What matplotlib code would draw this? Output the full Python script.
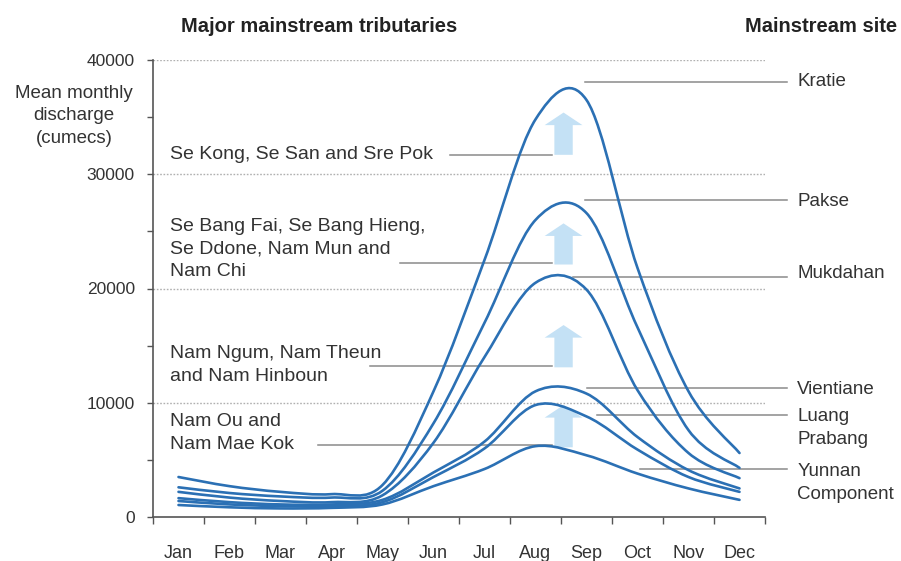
import numpy as np
import matplotlib
matplotlib.use("Agg")
import matplotlib.pyplot as plt
from matplotlib.path import Path
from matplotlib.patches import PathPatch, FancyArrow

plt.rcParams['font.family'] = ['Liberation Sans', 'DejaVu Sans']

# Data (mean monthly discharge, cumecs)
months = ['Jan', 'Feb', 'Mar', 'Apr', 'May', 'Jun', 'Jul', 'Aug', 'Sep', 'Oct', 'Nov', 'Dec']
kratie = [3500, 2700, 2200, 2000, 2800, 11000, 22500, 34800, 36500, 21800, 11000, 5600]
pakse = [2600, 2100, 1800, 1700, 2300, 8200, 17000, 26000, 26600, 16600, 7600, 4300]
mukdahan = [2200, 1700, 1400, 1300, 1900, 6500, 14000, 20500, 19900, 11100, 5600, 3400]
vientiane = [1650, 1300, 1100, 1100, 1500, 3900, 6600, 11000, 10800, 7000, 4100, 2500]
luang_prabang = [1400, 1100, 950, 950, 1300, 3500, 6000, 9800, 8800, 5900, 3500, 2200]
yunnan = [1050, 850, 750, 800, 1100, 2700, 4200, 6200, 5400, 3800, 2500, 1500]
series = [kratie, pakse, mukdahan, vientiane, luang_prabang, yunnan]

sites = ['Kratie', 'Pakse', 'Mukdahan', 'Vientiane', 'Luang\nPrabang', 'Yunnan\nComponent']
tributaries = ['Se Kong, Se San and Sre Pok',
               'Se Bang Fai, Se Bang Hieng,\nSe Ddone, Nam Mun and\nNam Chi',
               'Nam Ngum, Nam Theun\nand Nam Hinboun',
               'Nam Ou and\nNam Mae Kok']

# annotation layout (x in months, y in cumecs)
site_text_y = [38080, 27650, 21300, 11200, 7790, 2980]
site_line = [(8.47, 38080), (8.47, 27750), (8.24, 21000), (8.51, 11290), (8.71, 8930), (9.55, 4200)]
trib_text_y = [31690, 23460, 13300, 7350]
trib_line = [(5.82, 31690), (4.84, 22230), (4.25, 13220), (3.24, 6300)]
arrows = [(31700, 35400), (22100, 25700), (13100, 16800), (6100, 9800)]

line_col = '#2b70b4'
grey = '#8a8a8a'
txt_col = '#333333'


def smooth_path(xs, ys):
    # Catmull-Rom through the points, as cubic bezier segments (like a smoothed line)
    p = np.column_stack([xs, ys]).astype(float)
    ext = np.vstack([p[0], p, p[-1]])
    verts = [p[0]]
    codes = [Path.MOVETO]
    for i in range(len(p) - 1):
        p0, p1, p2, p3 = ext[i], ext[i + 1], ext[i + 2], ext[i + 3]
        c1 = p1 + (p2 - p0) / 6
        c2 = p2 - (p3 - p1) / 6
        verts += [c1, c2, p2]
        codes += [Path.CURVE4] * 3
    return Path(verts, codes)


fig = plt.figure(figsize=(9.01, 5.61), dpi=100)
ax = fig.add_axes([153 / 901, 1 - 517 / 561, 612 / 901, 457 / 561])

x = np.arange(len(months)) + 0.5
for s in series:
    ax.add_patch(PathPatch(smooth_path(x, s), fill=False, edgecolor=line_col, lw=1.9,
                           capstyle='round', joinstyle='round', zorder=3))

# up arrows
for y0, y1 in arrows:
    ax.add_patch(FancyArrow(8.05, y0, 0, y1 - y0, width=0.36, head_width=0.74,
                            head_length=1100, length_includes_head=True,
                            color='#c4e1f5', lw=0, zorder=2))

ax.set_xlim(0, 12)
ax.set_ylim(0, 40000)
for gy in [10000, 20000, 30000, 40000]:
    ax.axhline(gy, color='#b0b0b0', lw=1.0, ls=(0, (1.2, 1.2)), zorder=1)

ax.set_yticks(np.arange(0, 40001, 10000))
ax.set_yticks(np.arange(5000, 40000, 10000), minor=True)
ax.tick_params(axis='y', which='both', direction='out', length=4, width=1, color='#555555',
               labelsize=12.5, labelcolor=txt_col, pad=9)
ax.set_xticks(np.arange(0, 13))
ax.set_xticklabels([])
ax.set_xticks(x, minor=True)
ax.set_xticklabels(months, minor=True)
ax.tick_params(axis='x', which='major', direction='out', length=5, width=1, color='#555555')
ax.tick_params(axis='x', which='minor', length=0, labelsize=13, labelcolor=txt_col, pad=20)

for side in ['top', 'right']:
    ax.spines[side].set_visible(False)
for side in ['left', 'bottom']:
    ax.spines[side].set_color('#555555')
    ax.spines[side].set_linewidth(1.2)

# leader lines and labels
for (lx, ly), name, ty in zip(site_line, sites, site_text_y):
    ax.plot([lx, 12.43], [ly, ly], color=grey, lw=1.1, clip_on=False, zorder=2)
    ax.text(12.63, ty, name, ha='left', va='center', fontsize=13.5, color=txt_col,
            linespacing=1.45, clip_on=False)

for (lx, ly), name, ty in zip(trib_line, tributaries, trib_text_y):
    ax.plot([lx, 7.82], [ly, ly], color=grey, lw=1.1, zorder=2)
    ax.text(0.33, ty, name, ha='left', va='center', fontsize=14, color=txt_col,
            linespacing=1.4)

ax.text(-1.55, 35100, 'Mean monthly\ndischarge\n(cumecs)', ha='center', va='center',
        fontsize=13.5, color=txt_col, linespacing=1.45, clip_on=False)

fig.text(181 / 901, 1 - 27 / 561, 'Major mainstream tributaries', ha='left', va='center',
         fontsize=14.5, fontweight='bold', color='#222222')
fig.text(897 / 901, 1 - 27 / 561, 'Mainstream site', ha='right', va='center',
         fontsize=14.5, fontweight='bold', color='#222222')

fig.savefig('out.png', dpi=100)
